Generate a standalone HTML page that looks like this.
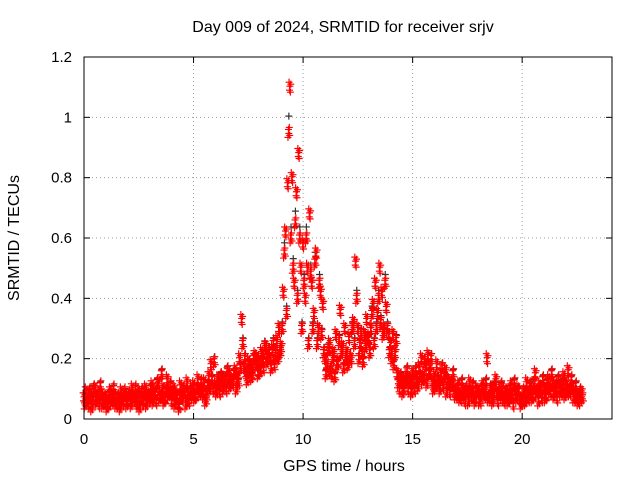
<!DOCTYPE html>
<html><head><meta charset="utf-8"><style>
body{margin:0;background:#fff}
svg{display:block;font-family:"Liberation Sans",sans-serif}
</style></head><body>
<svg id="c" width="640" height="480">
<text x="343" y="32" font-size="16" text-anchor="middle">Day 009 of 2024, SRMTID for receiver srjv</text>
<text x="344" y="471" font-size="16" text-anchor="middle">GPS time / hours</text>
<text transform="translate(19,238) rotate(-90)" font-size="16" text-anchor="middle">SRMTID / TECUs</text>
<g id="grid"></g><g id="pts"></g><g id="axes"></g>
</svg>
<script>
const xTicks=[0,5,10,15,20];
const yTicks=[0,0.2,0.4,0.6,0.8,1,1.2];
const yTickLabels=["0","0.2","0.4","0.6","0.8","1","1.2"];
const step=0.1;
const seriesA=[.07,.09,.05,.08,.06,.1,.07,.05,.08,.06,
.07,.05,.09,.06,.08,.05,.07,.09,.06,.08,
.06,.08,.1,.07,.05,.09,.07,.06,.1,.08,
.07,.11,.09,.06,.12,.08,.1,.07,.13,.09,
.06,.1,.08,.05,.11,.07,.09,.12,.06,.1,
.11,.08,.13,.09,.1,.12,.08,.14,.18,.1,
.11,.13,.09,.14,.12,.1,.15,.13,.12,.16,
.14,.2,.33,.17,.15,.19,.18,.16,.21,.2,
.19,.22,.17,.24,.21,.2,.23,.18,.26,.3,
.24,.42,.62,.78,1.1,.8,.45,.75,.88,.5,
.58,.4,.5,.68,.45,.35,.55,.3,.42,.38,
.2,.18,.25,.15,.22,.28,.19,.36,.24,.3,
.22,.27,.2,.32,.52,.3,.25,.22,.28,.33,
.27,.3,.38,.45,.35,.5,.42,.3,.37,.28,
.25,.28,.22,.15,.1,.13,.11,.14,.1,.12,
.15,.1,.13,.17,.2,.14,.18,.21,.16,.12,
.14,.18,.12,.15,.11,.16,.13,.09,.12,.1,
.08,.11,.07,.1,.06,.09,.12,.08,.07,.1,
.09,.06,.11,.08,.2,.07,.1,.08,.13,.06,
.08,.1,.06,.09,.07,.11,.05,.08,.1,.07,
.06,.09,.12,.07,.1,.08,.15,.09,.11,.07,
.1,.08,.13,.09,.12,.1,.07,.11,.09,.14,
.12,.16,.09,.1,.07,.08,.06,.09];
const seriesB=[.05,.06,.09,.04,.1,.06,.08,.11,.05,.07,
.04,.08,.06,.1,.05,.07,.04,.06,.09,.05,
.08,.05,.07,.1,.06,.04,.09,.08,.05,.07,
.1,.06,.08,.12,.07,.15,.06,.09,.08,.11,
.09,.05,.07,.04,.08,.1,.05,.07,.09,.08,
.07,.1,.09,.12,.08,.06,.11,.1,.13,.19,
.09,.11,.14,.1,.13,.16,.11,.12,.15,.1,
.12,.17,.25,.2,.13,.16,.14,.2,.18,.15,
.16,.2,.24,.19,.22,.17,.25,.21,.2,.22,
.3,.55,.35,.95,.6,.5,.65,.4,.6,.3,
.45,.6,.25,.48,.3,.52,.25,.45,.28,.22,
.15,.23,.16,.2,.14,.18,.26,.22,.17,.2,
.18,.2,.3,.25,.4,.2,.28,.19,.24,.26,
.22,.35,.25,.3,.4,.32,.28,.45,.3,.22,
.2,.18,.26,.12,.14,.09,.12,.16,.13,.09,
.12,.16,.11,.14,.13,.19,.12,.15,.2,.1,
.11,.13,.1,.17,.14,.09,.12,.11,.15,.08,
.1,.07,.12,.08,.1,.06,.09,.11,.06,.09,
.06,.1,.08,.12,.07,.1,.06,.11,.08,.09,
.11,.07,.09,.06,.1,.08,.12,.07,.09,.05,
.09,.06,.08,.11,.07,.12,.09,.06,.1,.13,
.07,.12,.1,.15,.08,.11,.13,.09,.12,.08,
.1,.09,.13,.07,.11,.06,.09,.07];
const L=84,R=612,T=57,B=419,XMAX=24.1,YMAX=1.2;
const X=v=>L+v/XMAX*(R-L), Y=v=>B-v/YMAX*(B-T);
const NS="http://www.w3.org/2000/svg";
function mk(p,tag,a){const e=document.createElementNS(NS,tag);for(const k in a)e.setAttribute(k,a[k]);p.appendChild(e);return e;}
const grid=document.getElementById('grid'),axes=document.getElementById('axes'),pts=document.getElementById('pts');
xTicks.forEach(t=>{
 const g=mk(grid,'line',{x1:X(t),x2:X(t),y1:T,y2:B,stroke:'#a0a0a0','stroke-dasharray':'1,3'});
 
 
 mk(axes,'line',{x1:X(t),x2:X(t),y1:B,y2:B-6,stroke:'#000'});
 mk(axes,'line',{x1:X(t),x2:X(t),y1:T,y2:T+6,stroke:'#000'});
 const tx=mk(axes,'text',{x:X(t),y:B+25,'font-size':15,'text-anchor':'middle'});tx.textContent=t;
 
 
});
yTicks.forEach((t,i)=>{
 const g=mk(grid,'line',{x1:L,x2:R,y1:Y(t),y2:Y(t),stroke:'#a0a0a0','stroke-dasharray':'1,3'});
 
 
 mk(axes,'line',{x1:L,x2:L+6,y1:Y(t),y2:Y(t),stroke:'#000'});
 mk(axes,'line',{x1:R,x2:R-6,y1:Y(t),y2:Y(t),stroke:'#000'});
 const tx=mk(axes,'text',{x:L-12,y:Y(t)+5,'font-size':15,'text-anchor':'end'});tx.textContent=yTickLabels[i];
 
 
});
const fr=mk(axes,'rect',{x:L,y:T,width:R-L,height:B-T,fill:'none',stroke:'#000'});


function plus(x,y,c,name){
 const p=mk(pts,'path',{d:`M${x-3.5},${y}h7M${x},${y-3.5}v7`,stroke:c,'stroke-width':1.2,fill:'none'});
 
 
}
const offs=[-0.04,-0.02,0,0.02,0.04];
const dys=[-5,3,-1,5,-3];
seriesB.forEach((v,i)=>{plus(X(i*step+0.05),Y(v*1.05)-2,'#333','point-black');});
seriesA.forEach((v,i)=>{offs.forEach((o,k)=>plus(X(i*step+o),Y(v)+dys[k],'#f00','point-red'));});
seriesB.forEach((v,i)=>{offs.forEach((o,k)=>plus(X(i*step+0.05+o),Y(v)-dys[k],'#f00','point-red'));});
</script>
</body></html>
